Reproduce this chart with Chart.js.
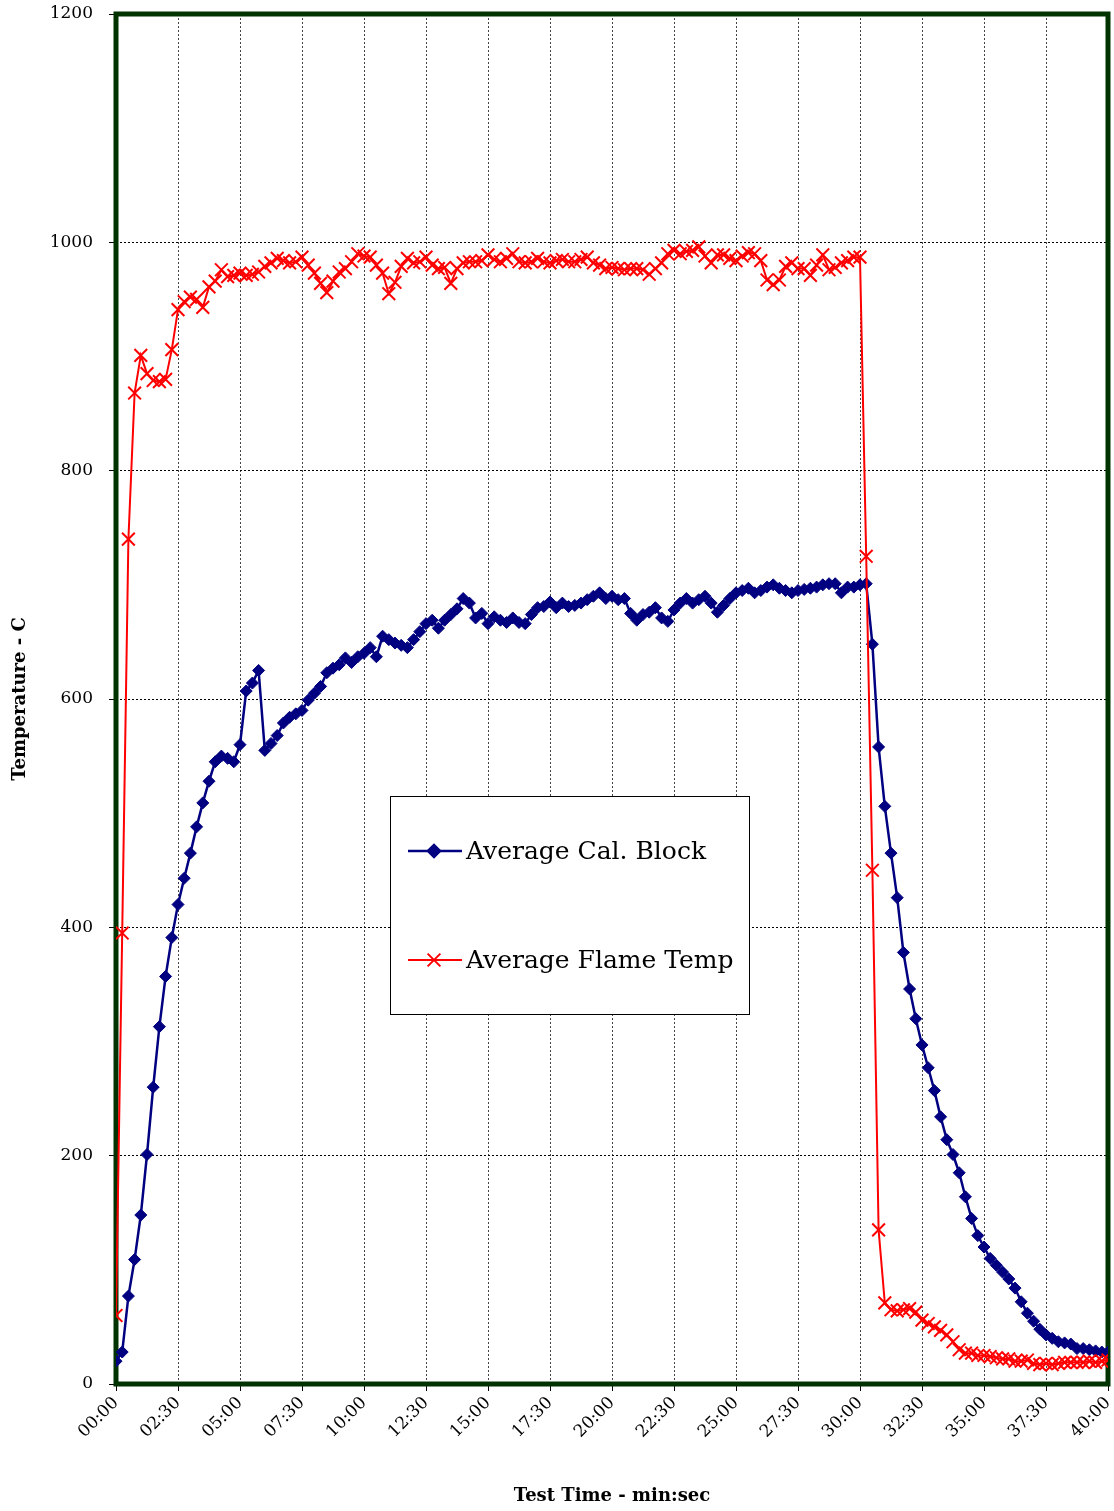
<!DOCTYPE html>
<html>
<head>
<meta charset="utf-8">
<script src="https://cdn.jsdelivr.net/npm/chart.js@4.4.1/dist/chart.umd.min.js"></script>
<style>
  html, body { margin: 0; padding: 0; background: #fff; }
  #wrap { width: 1114px; height: 1511px; }
</style>
</head>
<body>
<div id="wrap"><canvas id="chart" width="1114" height="1511"></canvas></div>
<script>
// Sample times (min:sec)
const sampleTimes = [
    "00:00","00:15","00:30","00:45","01:00","01:15","01:30","01:45",
    "02:00","02:15","02:30","02:45","03:00","03:15","03:30","03:45",
    "04:00","04:15","04:30","04:45","05:00","05:15","05:30","05:45",
    "06:00","06:15","06:30","06:45","07:00","07:15","07:30","07:45",
    "08:00","08:15","08:30","08:45","09:00","09:15","09:30","09:45",
    "10:00","10:15","10:30","10:45","11:00","11:15","11:30","11:45",
    "12:00","12:15","12:30","12:45","13:00","13:15","13:30","13:45",
    "14:00","14:15","14:30","14:45","15:00","15:15","15:30","15:45",
    "16:00","16:15","16:30","16:45","17:00","17:15","17:30","17:45",
    "18:00","18:15","18:30","18:45","19:00","19:15","19:30","19:45",
    "20:00","20:15","20:30","20:45","21:00","21:15","21:30","21:45",
    "22:00","22:15","22:30","22:45","23:00","23:15","23:30","23:45",
    "24:00","24:15","24:30","24:45","25:00","25:15","25:30","25:45",
    "26:00","26:15","26:30","26:45","27:00","27:15","27:30","27:45",
    "28:00","28:15","28:30","28:45","29:00","29:15","29:30","29:45",
    "30:00","30:15","30:30","30:45","31:00","31:15","31:30","31:45",
    "32:00","32:15","32:30","32:45","33:00","33:15","33:30","33:45",
    "34:00","34:15","34:30","34:45","35:00","35:15","35:30","35:45",
    "36:00","36:15","36:30","36:45","37:00","37:15","37:30","37:45",
    "38:00","38:15","38:30","38:45","39:00","39:15","39:30","39:45",
    "40:00"
];

// Average Cal. Block (C)
const calBlock = [
    20, 28, 77, 109, 148, 201, 260, 313, 357, 391,
    420, 443, 465, 488, 509, 528, 545, 550, 548, 545,
    560, 607, 614, 625, 555, 561, 568, 579, 584, 587,
    590, 599, 605, 611, 623, 627, 630, 636, 632, 637,
    640, 645, 637, 655, 652, 649, 647, 645, 652, 659,
    666, 669, 662, 669, 674, 679, 688, 684, 671, 675,
    666, 672, 669, 667, 671, 667, 666, 674, 680, 681,
    685, 680, 684, 681, 682, 684, 687, 690, 693, 688,
    690, 687, 688, 675, 669, 674, 676, 680, 671, 668,
    678, 684, 688, 684, 687, 690, 684, 676, 682, 688,
    693, 695, 697, 693, 695, 698, 700, 697, 695, 693,
    695, 696, 697, 698, 700, 701, 701, 693, 698, 698,
    700, 701, 648, 558, 506, 465, 426, 378, 346, 320,
    297, 277, 257, 234, 214, 201, 185, 164, 145, 130,
    120, 110, 104, 98, 92, 84, 72, 62, 55, 48,
    43, 40, 37, 36, 35, 31, 31, 30, 29, 28, 28
];

// Average Flame Temp (C)
const flameTemp = [
    60, 395, 740, 868, 901, 885, 879, 878, 880, 906,
    941, 948, 952, 950, 943, 961, 966, 976, 970, 971,
    973, 971, 972, 974, 979, 982, 986, 984, 982, 983,
    987, 980, 973, 964, 956, 966, 974, 977, 983, 990,
    988, 987, 980, 973, 955, 965, 979, 986, 982, 983,
    987, 980, 977, 978, 964, 977, 982, 983, 983, 984,
    989, 985, 983, 986, 990, 983, 982, 983, 986, 983,
    982, 984, 985, 983, 983, 985, 987, 982, 980, 977,
    978, 977, 976, 977, 977, 976, 972, 977, 982, 990,
    993, 990, 992, 993, 996, 988, 982, 989, 989, 986,
    984, 988, 991, 990, 984, 967, 963, 967, 979, 982,
    977, 977, 971, 980, 989, 976, 978, 982, 984, 987,
    987, 725, 450, 135, 71, 65, 64, 65, 66, 63,
    56, 53, 50, 47, 43, 37, 30, 27, 27, 25,
    25, 24, 23, 22, 22, 20, 20, 21, 18, 17,
    18, 17, 18, 19, 19, 19, 19, 20, 19, 20, 21
];

const xTickLabels = [
    "00:00","02:30","05:00","07:30","10:00","12:30","15:00","17:30","20:00",
    "22:30","25:00","27:30","30:00","32:30","35:00","37:30","40:00"
];

const seriesNames = ["Average Cal. Block", "Average Flame Temp"];

const blueColor = "#000080";
const redColor  = "#FF0000";
const serif     = "'DejaVu Serif', 'Liberation Serif', serif";

const toSec = s => { const p = s.split(":"); return (+p[0]) * 60 + (+p[1]); };
const pairs = arr => arr.map((v, i) => ({ x: toSec(sampleTimes[i]), y: v }));

// Frame, background and the inset legend
const framePlugin = {
    id: "frame",
    beforeDraw(chart) {
        const ctx = chart.ctx;
        ctx.save();
        ctx.fillStyle = "#fff";
        ctx.fillRect(0, 0, chart.width, chart.height);
        ctx.restore();
    },
    beforeDatasetsDraw(chart) {
        const { ctx, chartArea: a } = chart;
        ctx.save();
        ctx.strokeStyle = "#003300";
        ctx.lineWidth = 5;
        ctx.strokeRect(a.left, a.top, a.right - a.left, a.bottom - a.top);
        ctx.restore();
    },
    afterDraw(chart) {
        const ctx = chart.ctx;
        ctx.save();
        ctx.fillStyle = "#fff";
        ctx.fillRect(390, 796, 359, 218);
        ctx.strokeStyle = "#000";
        ctx.lineWidth = 1;
        ctx.strokeRect(390.5, 796.5, 359, 218);

        const rows = [
            { y: 851, color: blueColor, style: "rectRot", r: 6, w: 2.5 },
            { y: 960, color: redColor,  style: "crossRot", r: 9, w: 2 }
        ];
        rows.forEach((row, k) => {
            ctx.strokeStyle = row.color;
            ctx.fillStyle = row.color;
            ctx.lineWidth = row.w;
            ctx.beginPath();
            ctx.moveTo(408, row.y);
            ctx.lineTo(462, row.y);
            ctx.stroke();
            Chart.helpers.drawPoint(ctx, { pointStyle: row.style, radius: row.r, borderWidth: row.w, rotation: 0 }, 434, row.y);
            ctx.fillStyle = "#000";
            ctx.font = "25px " + serif;
            ctx.textBaseline = "middle";
            ctx.textAlign = "left";
            ctx.fillText(seriesNames[k], 466, row.y + 1);
        });
        ctx.restore();
    }
};

new Chart(document.getElementById("chart"), {
    type: "line",
    data: {
        datasets: [
            {
                label: seriesNames[1],
                data: pairs(flameTemp),
                borderColor: redColor,
                backgroundColor: redColor,
                borderWidth: 2,
                pointStyle: "crossRot",
                pointRadius: 9,
                pointBorderWidth: 2,
                order: 0
            },
            {
                label: seriesNames[0],
                data: pairs(calBlock),
                borderColor: blueColor,
                backgroundColor: blueColor,
                borderWidth: 2.5,
                pointStyle: "rectRot",
                pointRadius: 6,
                pointBorderWidth: 1,
                order: 1
            }
        ]
    },
    options: {
        responsive: false,
        animation: false,
        devicePixelRatio: 1,
        layout: { autoPadding: false, padding: { left: 0, top: 14, right: 6, bottom: 0 } },
        elements: { line: { tension: 0 } },
        plugins: {
            legend: { display: false },
            tooltip: { enabled: false }
        },
        scales: {
            x: {
                type: "linear",
                min: 0,
                max: 2400,
                afterFit: s => {
                    s.height = 127;
                    s.paddingLeft = 0;
                    s.paddingRight = 0;
                },
                grid: { color: "#444", lineWidth: 1, tickLength: 7, tickColor: "#000" },
                border: { display: false, dash: [2, 2] },
                ticks: {
                    stepSize: 150,
                    autoSkip: false,
                    maxRotation: 45,
                    minRotation: 45,
                    padding: 2,
                    color: "#000",
                    font: { family: serif, size: 17 },
                    callback: v => xTickLabels[Math.round(v / 150)]
                },
                title: {
                    display: true,
                    text: "Test Time - min:sec",
                    color: "#000",
                    font: { family: serif, size: 18, weight: "bold" },
                    padding: { top: 0, bottom: 4 }
                }
            },
            y: {
                min: 0,
                max: 1200,
                afterFit: s => {
                    s.width = 116;
                    s.paddingTop = 0;
                    s.paddingBottom = 0;
                },
                grid: { color: "#000", lineWidth: 1, tickLength: 7, tickColor: "#000" },
                border: { display: false, dash: [2, 2] },
                ticks: {
                    stepSize: 200,
                    padding: 16,
                    color: "#000",
                    font: { family: serif, size: 17 },
                    callback: v => String(v)
                },
                title: {
                    display: true,
                    text: "Temperature - C",
                    color: "#000",
                    font: { family: serif, size: 18, weight: "bold" },
                    padding: { top: 10, bottom: 0 }
                }
            }
        }
    },
    plugins: [framePlugin]
});
</script>
</body>
</html>
